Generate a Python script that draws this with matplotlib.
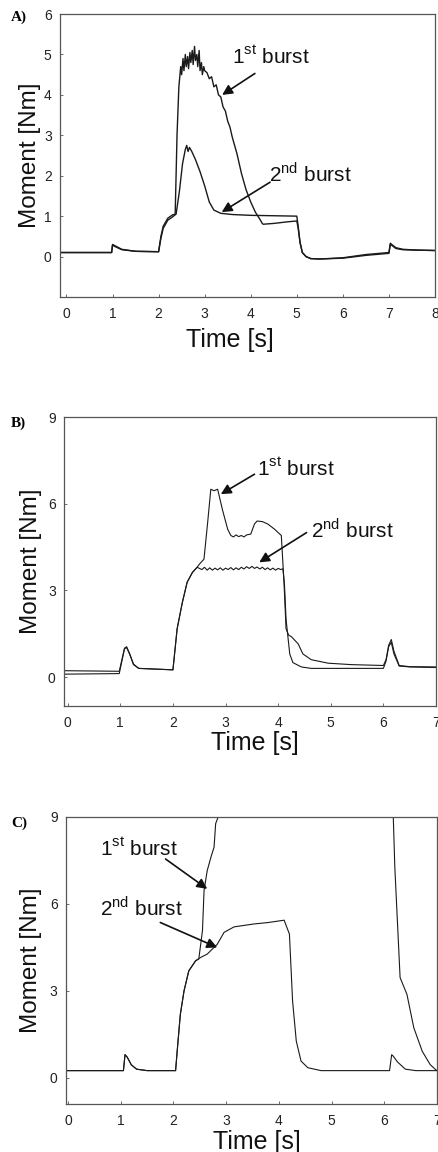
import matplotlib
matplotlib.use("Agg")
import matplotlib.pyplot as plt

plt.rcParams['font.family'] = ['Liberation Sans', 'DejaVu Sans']
plt.rcParams['mathtext.fontset'] = 'custom'
plt.rcParams['mathtext.rm'] = 'Liberation Sans'

# ---- panel A ----
a_t1 = [-0.14, 0.98, 1.0, 1.05, 1.2, 1.5, 2.0, 2.05, 2.1, 2.2, 2.3, 2.36, 2.4, 2.44,
        2.48, 2.5, 2.53, 2.55, 2.58, 2.6, 2.63, 2.65, 2.68, 2.7, 2.73, 2.75, 2.78, 2.8,
        2.83, 2.85, 2.88, 2.9, 2.93, 2.95, 2.98, 3.0, 3.05, 3.1, 3.15, 3.2, 3.25, 3.3,
        3.35, 3.4, 3.45, 3.5, 3.55, 3.6, 3.65, 3.7, 3.8, 3.9, 4.0, 4.1, 4.2, 4.25, 4.27,
        4.5, 4.8, 5.0, 5.03, 5.07, 5.12, 5.2, 5.3, 5.5, 6.0, 6.5, 7.0, 7.03, 7.06, 7.15,
        7.3, 7.6, 8.0]
a_v1 = [0.1, 0.1, 0.3, 0.27, 0.18, 0.13, 0.12, 0.5, 0.75, 0.95, 1.03, 1.05, 3.0, 4.2,
        4.7, 4.5, 4.9, 4.6, 5.0, 4.7, 4.95, 4.65, 5.05, 4.8, 5.1, 4.75, 5.2, 4.85,
        5.0, 4.7, 5.1, 4.6, 4.8, 4.5, 4.7, 4.6, 4.55, 4.4, 4.45, 4.2, 4.25, 4.0,
        3.95, 3.7, 3.6, 3.35, 3.2, 2.95, 2.75, 2.55, 2.05, 1.65, 1.35, 1.1, 0.92, 0.82, 0.8,
        0.82, 0.86, 0.88, 0.7, 0.35, 0.1, 0.0, -0.05, -0.06, -0.03, 0.05, 0.1, 0.33, 0.3, 0.22,
        0.18, 0.16, 0.15]
a_t2 = [-0.14, 0.98, 1.0, 1.05, 1.2, 1.5, 2.0, 2.05, 2.1, 2.2, 2.3, 2.38, 2.45, 2.52,
        2.58, 2.61, 2.64, 2.67, 2.72, 2.8, 2.9, 3.0, 3.1, 3.2, 3.35, 3.6, 4.0, 4.5, 5.0,
        5.03, 5.07, 5.12, 5.2, 5.3, 5.5, 6.0, 6.5, 7.0, 7.03, 7.06, 7.15, 7.3, 7.6, 8.0]
a_v2 = [0.1, 0.1, 0.28, 0.25, 0.17, 0.13, 0.12, 0.45, 0.7, 0.9, 0.98, 1.05, 1.6, 2.3,
        2.65, 2.75, 2.6, 2.7, 2.6, 2.4, 2.1, 1.75, 1.35, 1.15, 1.07, 1.04, 1.02, 1.01, 1.0,
        0.75, 0.35, 0.1, 0.0, -0.05, -0.06, -0.04, 0.03, 0.08, 0.3, 0.28, 0.2, 0.17, 0.16, 0.15]

# ---- panel B ----
b_t1 = [-0.07, 0.98, 1.03, 1.08, 1.12, 1.18, 1.25, 1.35, 2.0, 2.02, 2.08, 2.18, 2.27,
        2.37, 2.46, 2.5, 2.59, 2.66, 2.72, 2.78, 2.85, 2.94, 3.04, 3.1, 3.15, 3.2, 3.25,
        3.3, 3.35, 3.4, 3.48, 3.55, 3.6, 3.7, 3.8, 3.93, 4.0, 4.06, 4.11, 4.15, 4.2, 4.25,
        4.38, 4.47, 4.63, 4.95, 5.39, 6.0, 6.05, 6.1, 6.15, 6.2, 6.3, 6.5, 7.0]
b_v1 = [0.22, 0.2, 0.6, 1.0, 1.05, 0.8, 0.45, 0.3, 0.25, 0.6, 1.67, 2.59, 3.28,
        3.62, 3.8, 3.9, 4.08, 5.35, 6.5, 6.45, 6.5, 5.8, 5.12, 4.9, 4.85, 4.92, 4.86,
        4.9, 4.85, 4.92, 4.95, 5.3, 5.4, 5.38, 5.3, 5.12, 5.0, 4.9, 3.3, 1.67, 1.45, 1.4,
        1.15, 0.8, 0.6, 0.48, 0.43, 0.4, 0.6, 1.1, 1.3, 0.9, 0.4, 0.36, 0.35]
b_t2 = [-0.07, 0.98, 1.03, 1.08, 1.12, 1.18, 1.25, 1.35, 2.0, 2.02, 2.08, 2.18, 2.27,
        2.37, 2.46, 2.55, 2.6, 2.65, 2.7, 2.75, 2.8, 2.85, 2.9, 2.95, 3.0, 3.05, 3.1,
        3.15, 3.2, 3.25, 3.3, 3.35, 3.4, 3.45, 3.5, 3.55, 3.6, 3.65, 3.7, 3.75, 3.8,
        3.85, 3.9, 3.95, 4.0, 4.05, 4.09, 4.12, 4.15, 4.22, 4.28, 4.44, 4.63, 5.0, 6.0,
        6.05, 6.1, 6.15, 6.2, 6.3, 6.5, 7.0]
b_v2 = [0.1, 0.12, 0.55, 0.98, 1.02, 0.78, 0.43, 0.3, 0.25, 0.6, 1.67, 2.59, 3.28,
        3.62, 3.8, 3.72, 3.8, 3.7, 3.78, 3.7, 3.77, 3.71, 3.78, 3.7, 3.77, 3.72, 3.79,
        3.71, 3.78, 3.72, 3.8, 3.74, 3.82, 3.76, 3.83, 3.76, 3.81, 3.74, 3.8, 3.72, 3.78,
        3.71, 3.77, 3.7, 3.76, 3.72, 3.75, 3.2, 2.0, 0.8, 0.5, 0.35, 0.3, 0.3, 0.3,
        0.55, 1.05, 1.2, 0.8, 0.38, 0.35, 0.33]

# ---- panel C ----
c_t1 = [-0.04, 1.05, 1.08, 1.12, 1.2, 1.3, 1.5, 2.04, 2.07, 2.13, 2.2, 2.29, 2.42,
        2.48, 2.55, 2.58, 2.64, 2.71, 2.77, 2.8, 2.86, 3.0, 6.0, 6.17, 6.2, 6.3, 6.43,
        6.56, 6.72, 6.87, 6.97, 7.0]
c_v1 = [0.25, 0.25, 0.8, 0.72, 0.45, 0.3, 0.25, 0.25, 0.92, 2.19, 3.0, 3.69, 4.04,
        4.1, 5.08, 6.46, 7.15, 7.61, 7.96, 8.77, 9.06, 10.0, 10.0, 9.05, 7.27, 3.46, 2.88,
        1.73, 0.92, 0.46, 0.29, 0.25]
c_t2 = [-0.04, 1.05, 1.08, 1.12, 1.2, 1.3, 1.5, 2.04, 2.07, 2.13, 2.2, 2.29, 2.42,
        2.51, 2.64, 2.83, 2.96, 3.15, 3.53, 3.8, 4.1, 4.2, 4.26, 4.33, 4.42, 4.55, 4.8,
        6.1, 6.14, 6.17, 6.25, 6.4, 6.6, 7.0]
c_v2 = [0.25, 0.25, 0.8, 0.72, 0.45, 0.3, 0.25, 0.25, 0.92, 2.19, 3.0, 3.69, 4.04,
        4.15, 4.27, 4.61, 5.02, 5.21, 5.31, 5.36, 5.44, 4.96, 2.65, 1.27, 0.58, 0.35, 0.25,
        0.25, 0.8, 0.75, 0.55, 0.3, 0.25, 0.25]

sup1 = "1$^{\\rm st}$ burst"
sup2 = "2$^{\\rm nd}$ burst"

panels = [
    dict(label="A)", pos=[0.1367, 0.7422, 0.8542, 0.2456], xlim=(-0.14, 8), ylim=(-1, 6),
         xticks=range(0, 9), yticks=range(0, 7), lines=[(a_t1, a_v1), (a_t2, a_v2)],
         lw=1.0, xlab=(0.453, -0.11), ylab=(-0.051, 0.5),
         ann=[(sup1, (3.6, 4.93), (4.09, 4.53), (3.38, 4.0)),
              (sup2, (4.4, 2.06), (4.42, 1.84), (3.37, 1.1))],
         lab_y=0.985),
    dict(label="B)", pos=[0.1458, 0.3872, 0.8474, 0.2508], xlim=(-0.07, 7), ylim=(-1, 9),
         xticks=range(0, 8), yticks=[0, 3, 6, 9], lines=[(b_t1, b_v1), (b_t2, b_v2)],
         lw=0.8, xlab=(0.513, -0.087), ylab=(-0.059, 0.5),
         ann=[(sup1, (3.6, 7.21), (3.55, 7.02), (2.91, 6.33)),
              (sup2, (4.63, 5.12), (4.54, 5.0), (3.64, 3.97))],
         lab_y=0.633),
    dict(label="C)", pos=[0.1503, 0.0417, 0.8451, 0.2491], xlim=(-0.04, 7), ylim=(-0.9, 9),
         xticks=range(0, 8), yticks=[0, 3, 6, 9], lines=[(c_t1, c_v1), (c_t2, c_v2)],
         lw=0.8, xlab=(0.515, -0.09), ylab=(-0.065, 0.5),
         ann=[(sup1, (0.6, 7.9), (1.85, 7.55), (2.64, 6.52)),
              (sup2, (0.6, 5.86), (1.75, 5.36), (2.83, 4.5))],
         lab_y=0.285),
]

fig = plt.figure(figsize=(4.39, 11.52), dpi=100)

for p in panels:
    ax = fig.add_axes(p["pos"])
    for t, v in p["lines"]:
        ax.plot(t, v, color="#1a1a1a", lw=p["lw"])
    ax.set_xlim(*p["xlim"])
    ax.set_ylim(*p["ylim"])
    ax.set_xticks(list(p["xticks"]))
    ax.set_yticks(list(p["yticks"]))
    ax.tick_params(direction="in", length=2.5, width=0.6, color="#555555",
                   labelsize=10, labelcolor="#222222")
    ax.tick_params(axis="y", pad=6)
    ax.tick_params(axis="x", pad=7)
    for s in ax.spines.values():
        s.set_color("#555555")
        s.set_linewidth(0.9)
    ax.set_ylabel("Moment [Nm]", fontsize=17.5, color="#111111")
    ax.yaxis.set_label_coords(*p["ylab"])
    ax.set_xlabel("Time [s]", fontsize=18, color="#111111")
    ax.xaxis.set_label_coords(*p["xlab"])
    for txt, tpos, tail, tip in p["ann"]:
        ax.text(tpos[0], tpos[1], txt, fontsize=15, ha="left", va="center", color="#111111")
        ax.annotate("", xy=tip, xytext=tail,
                    arrowprops=dict(arrowstyle="-|>,head_length=0.6,head_width=0.3",
                                    color="#111111", lw=1.2, shrinkA=0, shrinkB=0))
    fig.text(0.025, p["lab_y"], p["label"], family="Liberation Serif", fontweight="bold",
             fontsize=11, ha="left", va="center")

fig.savefig("out.png", dpi=100)
